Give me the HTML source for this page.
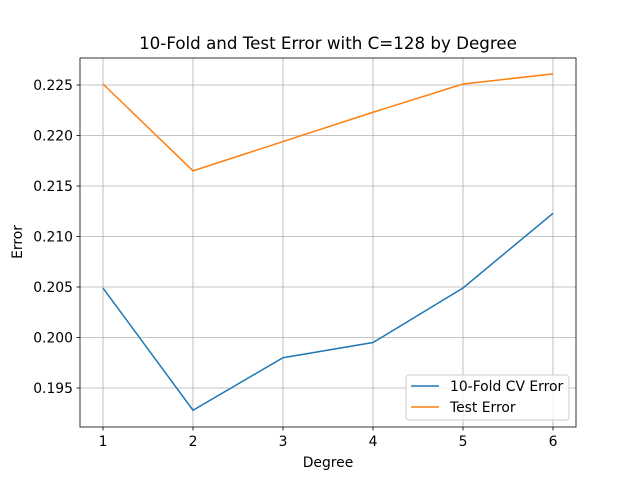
<!DOCTYPE html>
<html><head><meta charset="utf-8"><style>body{margin:0;background:#fff}svg text{font-family:"DejaVu Sans","Liberation Sans",sans-serif}</style></head>
<body>
<svg id="chart" width="640" height="480" xmlns="http://www.w3.org/2000/svg">
<rect width="640" height="480" fill="#fff"/>
<g id="grid"></g><g id="ticks"></g><g id="lines"></g>
<rect x="80" y="58" width="496" height="369" fill="none" stroke="#000" stroke-width="0.8"/>
<text x="328" y="49" font-size="16.7" text-anchor="middle">10-Fold and Test Error with C=128 by Degree</text>
<text x="328" y="467" font-size="13.9" text-anchor="middle">Degree</text>
<text transform="translate(22,242) rotate(-90)" font-size="13.9" text-anchor="middle">Error</text>
<g>
<rect x="406" y="375" width="163" height="45" rx="3" fill="#fff" fill-opacity="0.8" stroke="#ccc"/>
<line x1="411" y1="386" x2="439" y2="386" stroke="#1f77b4" stroke-width="1.5"/>
<text x="450" y="391" font-size="13.9">10-Fold CV Error</text>
<line x1="411" y1="407" x2="439" y2="407" stroke="#ff7f0e" stroke-width="1.5"/>
<text x="450" y="412" font-size="13.9">Test Error</text>
</g>
</svg>
<script>
const degrees=[1,2,3,4,5,6];
const cvError=[0.2049,0.1928,0.1980,0.1995,0.2049,0.2123];
const testError=[0.2251,0.2165,0.2194,0.2223,0.2251,0.2261];
const yTicks=[0.195,0.200,0.205,0.210,0.215,0.220,0.225];
const ns="http://www.w3.org/2000/svg";
const xs=d=>103+(d-1)*90;
const ys=v=>388-(v-0.195)/0.005*50.5;
const g=document.getElementById('grid'),t=document.getElementById('ticks'),l=document.getElementById('lines');
function mk(tag,a,p){const e=document.createElementNS(ns,tag);for(const k in a)e.setAttribute(k,a[k]);p.appendChild(e);return e;}
degrees.forEach(d=>{const x=xs(d);
const gl=mk('line',{x1:x,x2:x,y1:58,y2:427,stroke:'#b0b0b0','stroke-width':0.8},g);

mk('line',{x1:x,x2:x,y1:427,y2:430.5,stroke:'#000','stroke-width':0.8},t);
const tx=mk('text',{x:x,y:446,'font-size':13.9,'text-anchor':'middle'},t);tx.textContent=d;
});
yTicks.forEach(v=>{const y=ys(v);
const gl=mk('line',{x1:80,x2:576,y1:y,y2:y,stroke:'#b0b0b0','stroke-width':0.8},g);

mk('line',{x1:76.5,x2:80,y1:y,y2:y,stroke:'#000','stroke-width':0.8},t);
const tx=mk('text',{x:73,y:y+5,'font-size':13.9,'text-anchor':'end'},t);tx.textContent=v.toFixed(3);
});
function series(vals,c,n){const p=mk('polyline',{points:vals.map((v,i)=>xs(degrees[i])+','+ys(v)).join(' '),fill:'none',stroke:c,'stroke-width':1.5},l);
}
series(cvError,'#1f77b4','cv-error-line');
series(testError,'#ff7f0e','test-error-line');
</script>
</body></html>
